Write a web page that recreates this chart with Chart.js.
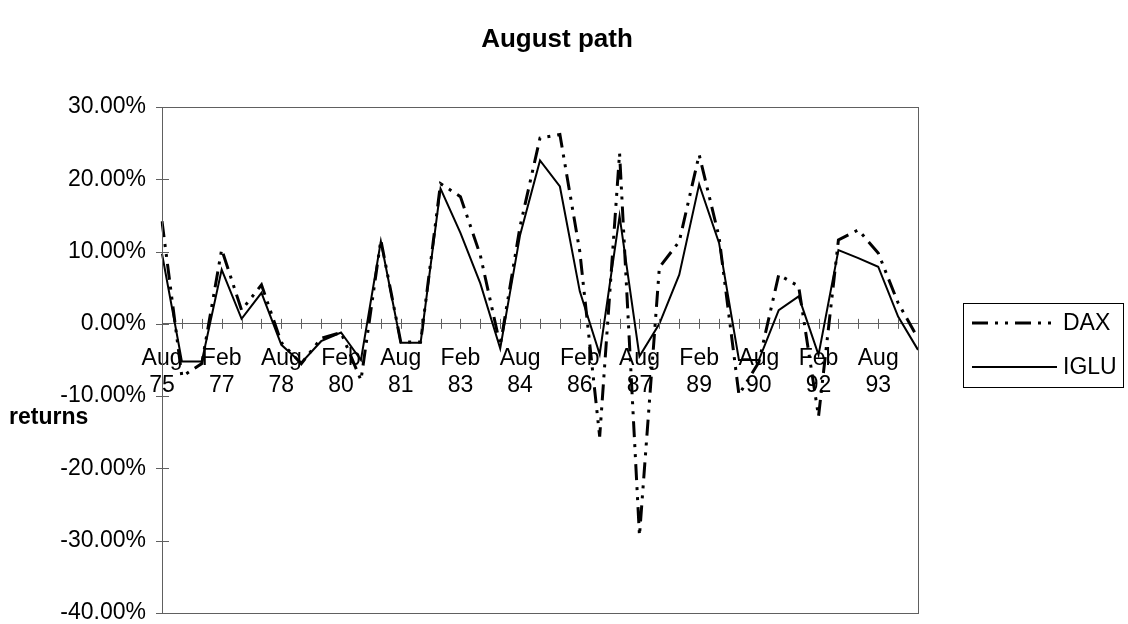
<!DOCTYPE html>
<html>
<head>
<meta charset="utf-8">
<script src="https://cdn.jsdelivr.net/npm/chart.js@4"></script>
<style>
  body { margin: 0; background: #fff; }
  #wrap { width: 1128px; height: 624px; }
</style>
</head>
<body>
<div id="wrap"><canvas id="chart"></canvas></div>
<script>
const categories = ['Aug 75','Feb 76','Aug 76','Feb 77','Aug 77','Feb 78','Aug 78','Feb 79','Aug 79','Feb 80',
  'Aug 80','Feb 81','Aug 81','Feb 82','Aug 82','Feb 83','Aug 83','Feb 84','Aug 84','Feb 85',
  'Aug 85','Feb 86','Aug 86','Feb 87','Aug 87','Feb 88','Aug 88','Feb 89','Aug 89','Feb 90',
  'Aug 90','Feb 91','Aug 91','Feb 92','Aug 92','Feb 93','Aug 93','Feb 94','Aug 94'];

// returns in percent
const dax = [14.2, -7.3, -5.5, 10.3, 1.9, 5.4, -2.6, -5.5, -2.0, -1.2,
  -7.8, 11.6, -2.5, -2.5, 19.4, 17.6, 9.5, -3.0, 13.5, 25.7,
  26.2, 10.0, -15.6, 23.6, -29.3, 7.8, 11.4, 23.4, 12.0, -9.8,
  -5.3, 6.8, 5.2, -12.8, 11.6, 13.0, 9.8, 2.9, -2.0];
const iglu = [9.7, -5.2, -5.2, 7.5, 0.7, 4.3, -2.9, -5.4, -2.4, -1.2,
  -5.0, 11.4, -2.6, -2.6, 18.7, 12.6, 5.6, -3.4, 12.3, 22.6,
  19.0, 4.5, -4.2, 14.9, -4.5, 0.0, 6.8, 19.3, 11.2, -5.0,
  -5.0, 1.9, 3.8, -4.3, 10.2, 9.1, 7.9, 1.0, -3.6];

const yTicks = [-40, -30, -20, -10, 0, 10, 20, 30];
const labelEvery = 3;

const FONT = "'Liberation Sans', Arial, sans-serif";
const AXIS = '#606060';

// excel-ish extras: title, plot frame, crossing tick marks, flat axis title, boxed legend
const excelBits = {
  id: 'excelBits',
  afterDraw(chart) {
    const ctx = chart.ctx;
    const a = chart.chartArea;
    const x = chart.scales.x, y = chart.scales.y;
    const zeroY = y.getPixelForValue(0);
    ctx.save();
    ctx.strokeStyle = AXIS;
    ctx.lineWidth = 1;
    ctx.strokeRect(a.left + 0.5, a.top + 0.5, a.width, a.height);

    ctx.beginPath();
    x.ticks.forEach((t, i) => {
      const px = Math.round(x.getPixelForTick(i)) + 0.5;
      ctx.moveTo(px, zeroY - 5);
      ctx.lineTo(px, zeroY + 5);
    });
    y.ticks.forEach((t, i) => {
      const py = Math.round(y.getPixelForTick(i)) + 0.5;
      ctx.moveTo(a.left - 6, py);
      ctx.lineTo(a.left + 7, py);
    });
    ctx.stroke();

    ctx.fillStyle = '#000';
    ctx.textBaseline = 'middle';
    ctx.textAlign = 'center';
    ctx.font = 'bold 26px ' + FONT;
    ctx.fillText('August path', 557, 40);

    ctx.textAlign = 'left';
    ctx.font = 'bold 23px ' + FONT;
    ctx.fillText('returns', 9, 418);

    // legend
    const bx = a.right + 45, by = 303, bw = 160, bh = 84;
    ctx.strokeStyle = '#000';
    ctx.strokeRect(bx + 0.5, by + 0.5, bw, bh);
    ctx.font = '23px ' + FONT;
    chart.data.datasets.forEach((ds, i) => {
      const ly = by + 20 + i * 44;
      ctx.beginPath();
      ctx.lineWidth = ds.borderWidth;
      ctx.setLineDash(ds.borderDash || []);
      ctx.moveTo(bx + 9, ly);
      ctx.lineTo(bx + 94, ly);
      ctx.stroke();
      ctx.setLineDash([]);
      ctx.fillText(ds.label, bx + 100, ly + 1);
    });
    ctx.restore();
  }
};

new Chart(document.getElementById('chart'), {
  type: 'line',
  data: {
    labels: categories,
    datasets: [
      {
        label: 'DAX',
        data: dax,
        borderColor: '#000',
        borderWidth: 3,
        borderDash: [16, 7, 3, 7, 3, 7],
        pointRadius: 0,
        tension: 0,
        fill: false
      },
      {
        label: 'IGLU',
        data: iglu,
        borderColor: '#000',
        borderWidth: 2,
        pointRadius: 0,
        tension: 0,
        fill: false
      }
    ]
  },
  options: {
    responsive: true,
    maintainAspectRatio: false,
    animation: false,
    layout: { padding: { left: 0, right: 210, top: 107, bottom: 11 } },
    plugins: {
      legend: { display: false },
      tooltip: { enabled: false },
      title: { display: false }
    },
    scales: {
      x: {
        type: 'category',
        position: { y: 0 },
        offset: false,
        afterFit: s => { s.height = 0; },
        grid: { display: true, drawOnChartArea: false, drawTicks: false },
        border: { display: true, color: AXIS, width: 1 },
        ticks: {
          autoSkip: false,
          maxRotation: 0,
          minRotation: 0,
          padding: 22,
          color: '#000',
          font: { family: FONT, size: 23, lineHeight: 1.15 },
          callback: (v, i) => i % labelEvery === 0 ? categories[i].split(' ') : ''
        }
      },
      y: {
        min: yTicks[0],
        max: yTicks[yTicks.length - 1],
        afterFit: s => { s.width = 162; s.paddingTop = 0; s.paddingBottom = 0; },
        grid: { display: true, drawOnChartArea: false, drawTicks: false },
        border: { display: true, color: AXIS, width: 1 },
        ticks: {
          stepSize: 10,
          padding: 16,
          color: '#000',
          font: { family: FONT, size: 23, lineHeight: 1 },
          callback: v => v.toFixed(2) + '%'
        }
      }
    }
  },
  plugins: [excelBits]
});
</script>
</body>
</html>
